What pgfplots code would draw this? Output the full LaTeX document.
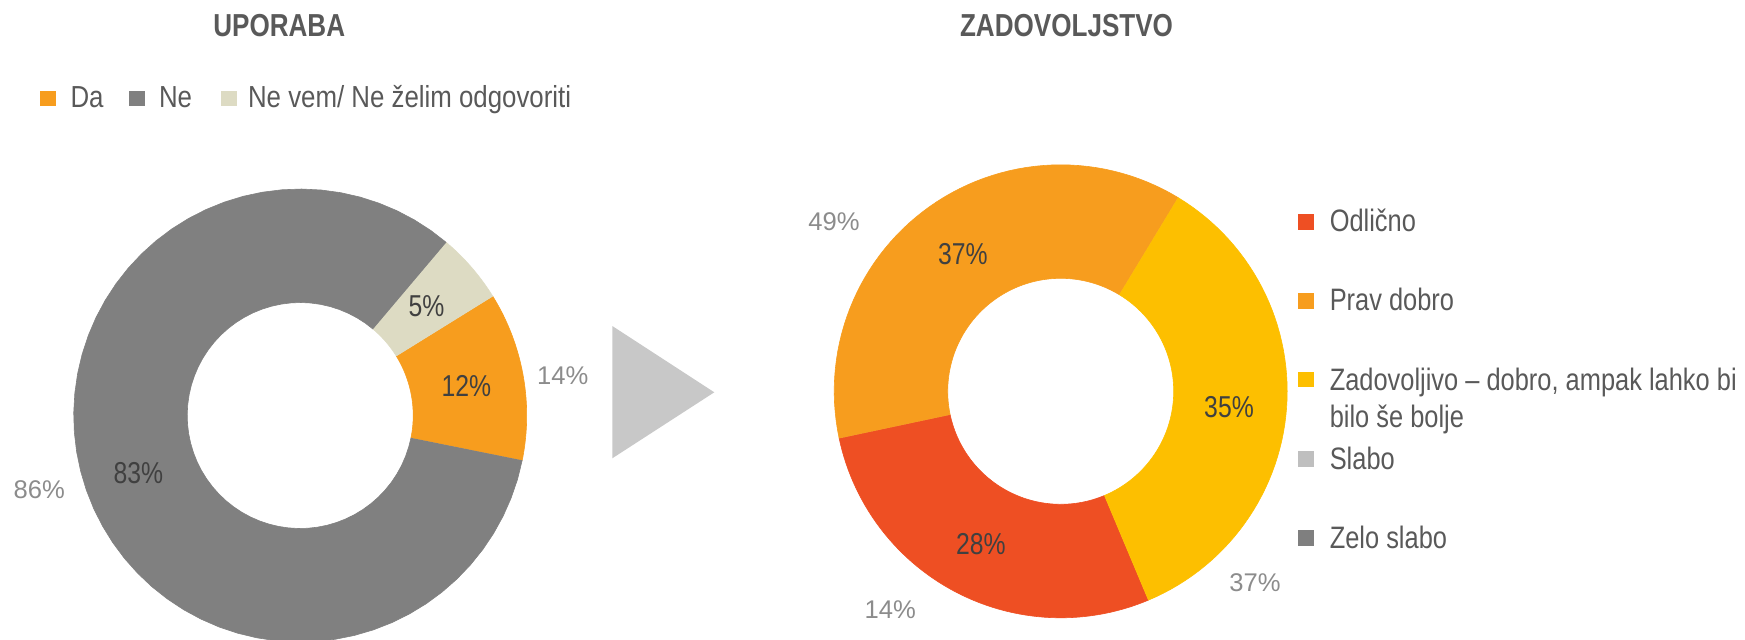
\documentclass[border=0pt]{standalone}
\usepackage{pgfplots}
\pgfplotsset{compat=1.18}
\usepackage{fontspec}
\setmainfont[FakeStretch=0.82]{Liberation Sans}
\newfontfamily\legL[FakeStretch=0.85]{Liberation Sans}
\newfontfamily\titf[FakeStretch=0.82]{Liberation Sans}
\newfontfamily\plainf{Liberation Sans}

\definecolor{cOrange}{HTML}{F79D1E}
\definecolor{cGrey}{HTML}{808080}
\definecolor{cBeige}{HTML}{DDDBC3}
\definecolor{cRed}{HTML}{EE4F23}
\definecolor{cYellow}{HTML}{FDBF00}
\definecolor{cLight}{HTML}{BFBFBF}
\definecolor{cDark}{HTML}{7F7F7F}
\definecolor{cTitle}{HTML}{595959}
\definecolor{cLab}{HTML}{404040}
\definecolor{cOut}{HTML}{8C8C8C}
\definecolor{cTri}{HTML}{C8C8C8}

% running start angle (degrees, slices go clockwise)
\gdef\curang{0}
% #1 cx, #2 cy, #3 outer R, #4 inner r, #5 value (%), #6 colour
\newcommand\slice[6]{%
  \ifdim #5pt>0pt
  \pgfmathsetmacro\sa{\curang}%
  \pgfmathsetmacro\sb{\curang-(#5)*3.6}%
  \xdef\curang{\sb}%
  \edef\temp{\noexpand\addplot[fill=#6, draw=#6, line width=0.3pt, line join=round, domain=0:121, samples=122]
   ({#1+(x<60.5 ? #3 : #4)*cos(x<60.5 ? (\sa)+((\sb)-(\sa))*x/60 : (\sb)+((\sa)-(\sb))*(x-61)/60)},
    {#2-(x<60.5 ? #3 : #4)*sin(x<60.5 ? (\sa)+((\sb)-(\sa))*x/60 : (\sb)+((\sa)-(\sb))*(x-61)/60)});}%
  \temp
  \fi}

\begin{document}
\begin{tikzpicture}
\begin{axis}[hide axis, scale only axis, x=0.5pt, y=0.5pt,
  xmin=0, xmax=1745, ymin=0, ymax=639, y dir=reverse,
  anchor=south west, clip=true, no markers,
  every node/.style={inner sep=0pt, outer sep=0pt}]

% UPORABA: Da, Ne, Ne vem/ Ne zelim odgovoriti
\xdef\curang{31.8}
\slice{300.2}{415.5}{226.5}{113}{12}{cOrange}
\slice{300.2}{415.5}{226.5}{113}{83}{cGrey}
\slice{300.2}{415.5}{226.5}{113}{5}{cBeige}

% ZADOVOLJSTVO: Odlicno, Prav dobro, Zadovoljivo, Slabo, Zelo slabo
\xdef\curang{-67.2}
\slice{1060.7}{391.3}{226.5}{113}{28}{cRed}
\slice{1060.7}{391.3}{226.5}{113}{37}{cOrange}
\slice{1060.7}{391.3}{226.5}{113}{35}{cYellow}
\slice{1060.7}{391.3}{226.5}{113}{0}{cLight}
\slice{1060.7}{391.3}{226.5}{113}{0}{cDark}

% arrow triangle
\fill[cTri] (axis cs:612.3,326) -- (axis cs:714.3,392.3) -- (axis cs:612.3,458.3) -- cycle;

% titles
\node[anchor=base, text=cTitle, font=\titf\bfseries\fontsize{15.9}{19}\selectfont] at (axis cs:279.2,36) {UPORABA};
\node[anchor=base, text=cTitle, font=\titf\bfseries\fontsize{15.9}{19}\selectfont] at (axis cs:1066.5,36) {ZADOVOLJSTVO};

% left legend
\fill[cOrange] (axis cs:40,90.5) rectangle (axis cs:55.7,106.2);
\fill[cGrey] (axis cs:129.3,90.5) rectangle (axis cs:145,106.2);
\fill[cBeige] (axis cs:221,90.5) rectangle (axis cs:236.7,106.2);
\node[anchor=base west, text=cTitle, font=\legL\fontsize{15.2}{18}\selectfont] at (axis cs:63.5,107.3) {Da};
\node[anchor=base west, text=cTitle, font=\legL\fontsize{15.2}{18}\selectfont] at (axis cs:152,107.3) {Ne};
\node[anchor=base west, text=cTitle, font=\legL\fontsize{15.2}{18}\selectfont] at (axis cs:241,107.3) {Ne vem/ Ne želim odgovoriti};

% right legend
\fill[cRed] (axis cs:1298.3,214.3) rectangle (axis cs:1314,230);
\fill[cOrange] (axis cs:1298.3,293.3) rectangle (axis cs:1314,309);
\fill[cYellow] (axis cs:1298.3,371.7) rectangle (axis cs:1314,387.3);
\fill[cLight] (axis cs:1298.3,451.3) rectangle (axis cs:1314,467);
\fill[cDark] (axis cs:1298.3,530) rectangle (axis cs:1314,545.7);
\node[anchor=base west, text=cTitle, font=\fontsize{15.5}{18.6}\selectfont] at (axis cs:1322.7,231.7) {Odlično};
\node[anchor=base west, text=cTitle, font=\fontsize{15.5}{18.6}\selectfont] at (axis cs:1322.7,310) {Prav dobro};
\node[anchor=base west, text=cTitle, font=\fontsize{15.5}{18.6}\selectfont] at (axis cs:1322.7,390.7) {Zadovoljivo – dobro, ampak lahko bi};
\node[anchor=base west, text=cTitle, font=\fontsize{15.5}{18.6}\selectfont] at (axis cs:1322.7,427.3) {bilo še bolje};
\node[anchor=base west, text=cTitle, font=\fontsize{15.5}{18.6}\selectfont] at (axis cs:1322.7,469.3) {Slabo};
\node[anchor=base west, text=cTitle, font=\fontsize{15.5}{18.6}\selectfont] at (axis cs:1322.7,548.3) {Zelo slabo};

% inner data labels
\node[anchor=base, text=cLab, font=\fontsize{15.1}{18}\selectfont] at (axis cs:426.5,316.7) {5\%};
\node[anchor=base, text=cLab, font=\fontsize{15.1}{18}\selectfont] at (axis cs:466.3,396.7) {12\%};
\node[anchor=base, text=cLab, font=\fontsize{15.1}{18}\selectfont] at (axis cs:138.3,483.3) {83\%};
\node[anchor=base, text=cLab, font=\fontsize{15.1}{18}\selectfont] at (axis cs:962.8,264) {37\%};
\node[anchor=base, text=cLab, font=\fontsize{15.1}{18}\selectfont] at (axis cs:980.8,554) {28\%};
\node[anchor=base, text=cLab, font=\fontsize{15.1}{18}\selectfont] at (axis cs:1229,417.3) {35\%};

% outer labels
\node[anchor=base, text=cOut, font=\plainf\fontsize{12.8}{15}\selectfont] at (axis cs:39.2,498.3) {86\%};
\node[anchor=base, text=cOut, font=\plainf\fontsize{12.8}{15}\selectfont] at (axis cs:562.8,384.3) {14\%};
\node[anchor=base, text=cOut, font=\plainf\fontsize{12.8}{15}\selectfont] at (axis cs:834,230) {49\%};
\node[anchor=base, text=cOut, font=\plainf\fontsize{12.8}{15}\selectfont] at (axis cs:890.3,618.3) {14\%};
\node[anchor=base, text=cOut, font=\plainf\fontsize{12.8}{15}\selectfont] at (axis cs:1255,591.7) {37\%};
\end{axis}
\pgfresetboundingbox
\path[use as bounding box] (0,0) rectangle (872.5pt,319.5pt);
\end{tikzpicture}
\end{document}
